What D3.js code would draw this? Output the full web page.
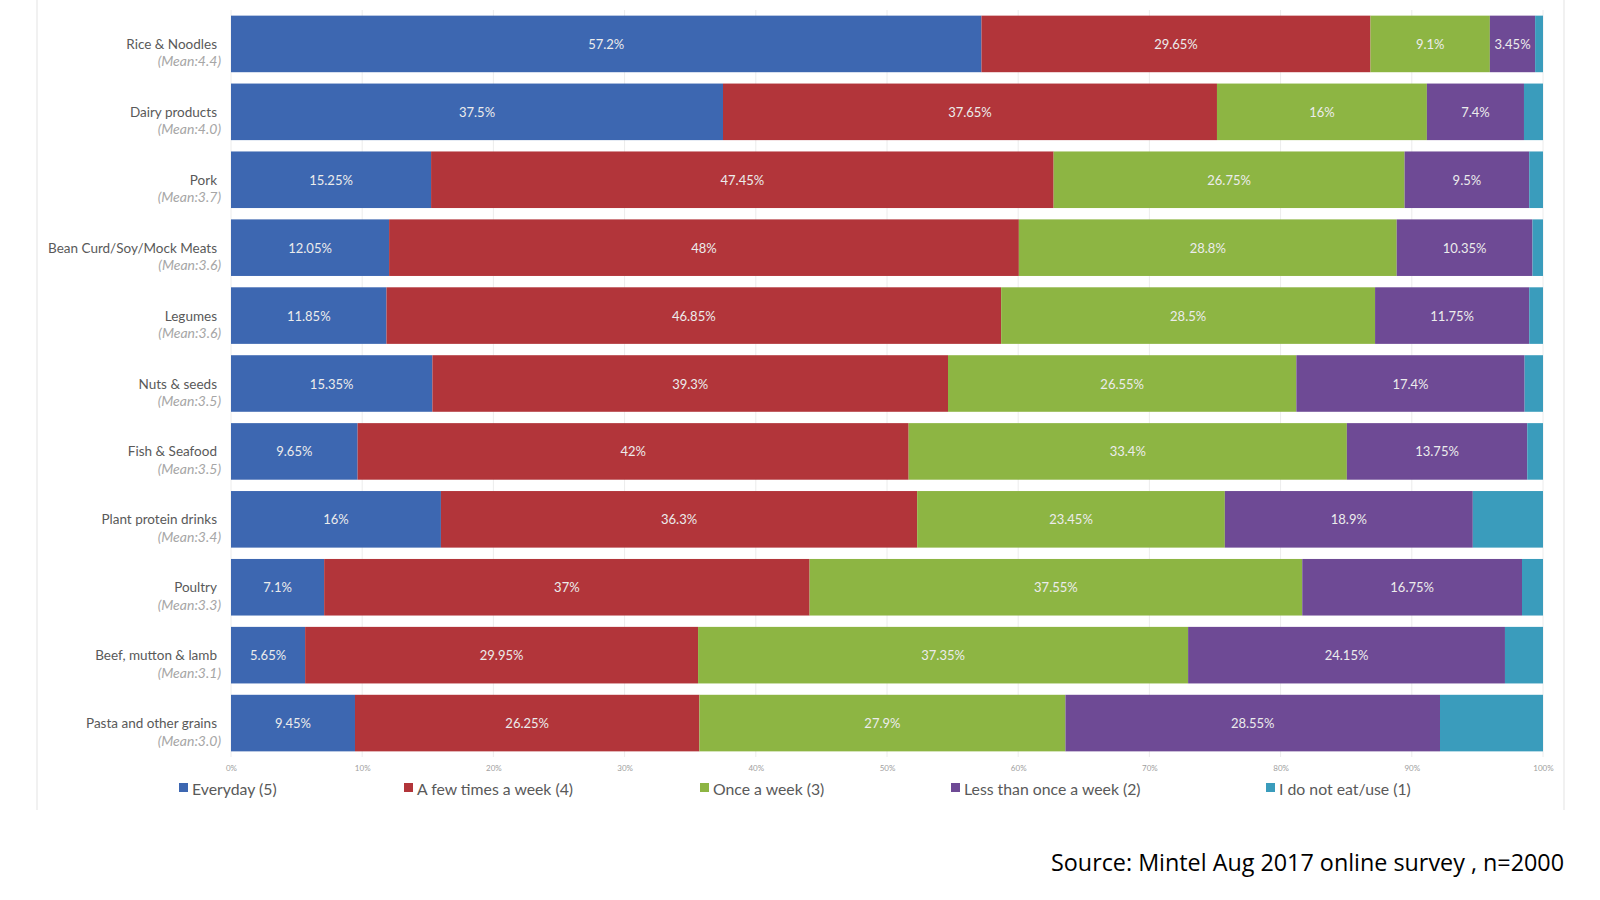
<!DOCTYPE html>
<html><head><meta charset="utf-8">
<script src="https://cdn.jsdelivr.net/npm/d3@7"></script>
<style>body{margin:0;background:#fff;}svg{display:block;font-family:Lato,"Open Sans",sans-serif;}</style>
</head><body>
<svg id="chart" width="1600" height="900"></svg>
<script>
const categories = ["Rice & Noodles","Dairy products","Pork","Bean Curd/Soy/Mock Meats","Legumes","Nuts & seeds","Fish & Seafood","Plant protein drinks","Poultry","Beef, mutton & lamb","Pasta and other grains"];
const means = ["(Mean:4.4)","(Mean:4.0)","(Mean:3.7)","(Mean:3.6)","(Mean:3.6)","(Mean:3.5)","(Mean:3.5)","(Mean:3.4)","(Mean:3.3)","(Mean:3.1)","(Mean:3.0)"];
const seriesNames = ["Everyday (5)","A few times a week (4)","Once a week (3)","Less than once a week (2)","I do not eat/use (1)"];
const everyday   = [57.2, 37.5, 15.25, 12.05, 11.85, 15.35, 9.65, 16, 7.1, 5.65, 9.45];
const fewTimes   = [29.65, 37.65, 47.45, 48, 46.85, 39.3, 42, 36.3, 37, 29.95, 26.25];
const onceWeek   = [9.1, 16, 26.75, 28.8, 28.5, 26.55, 33.4, 23.45, 37.55, 37.35, 27.9];
const lessThan   = [3.45, 7.4, 9.5, 10.35, 11.75, 17.4, 13.75, 18.9, 16.75, 24.15, 28.55];
const notEat     = [0.6, 1.45, 1.05, 0.8, 1.05, 1.4, 1.2, 5.35, 1.6, 2.9, 7.85];
const showLabel  = [true, true, true, true, false];
const tickValues = [0,10,20,30,40,50,60,70,80,90,100];
const colors = ["#3d67b1","#b2353a","#8db543","#6e4a95","#3a9cbc"];

const seriesVals = [everyday, fewTimes, onceWeek, lessThan, notEat];
const rows = categories.map((c,i)=>{const o={cat:c}; seriesNames.forEach((s,j)=>o[s]=seriesVals[j][i]); return o;});
const stack = d3.stack().keys(seriesNames)(rows);

const svg = d3.select("#chart");
const x = d3.scaleLinear().domain([0,100]).range([231,1543]);
const y = d3.scaleBand().domain(categories).range([10,757]).paddingInner(0.167).paddingOuter(0.083);

// frame lines
svg.append("line").attr("x1",37).attr("x2",37).attr("y1",0).attr("y2",810).attr("stroke","#e3e3e3");
svg.append("line").attr("x1",1564).attr("x2",1564).attr("y1",0).attr("y2",810).attr("stroke","#e3e3e3");

// gridlines
svg.append("g").selectAll("line").data(tickValues).join("line")
  .attr("x1",d=>x(d)).attr("x2",d=>x(d)).attr("y1",10).attr("y2",757)
  .attr("stroke","#ececec").attr("stroke-width",1);

// bars
const g = svg.append("g");
stack.forEach((layer,j)=>{
  g.append("g").attr("fill",colors[j]).selectAll("rect").data(layer).join("rect")
    .attr("x",d=>x(d[0])).attr("width",d=>x(d[1])-x(d[0]))
    .attr("y",d=>y(d.data.cat)).attr("height",y.bandwidth());
  if(showLabel[j]){
    g.append("g").selectAll("text").data(layer).join("text")
      .attr("x",d=>(x(d[0])+x(d[1]))/2).attr("y",d=>y(d.data.cat)+y.bandwidth()/2)
      .attr("text-anchor","middle").attr("dominant-baseline","central")
      .attr("fill","#ececec").attr("font-size",13)
      .text(d=>(d[1]-d[0]).toFixed(2).replace(/\.?0+$/,"")+"%");
  }
});

// x axis tick labels
const axis = d3.axisBottom(x).tickValues(tickValues).tickFormat(d=>d+"%").tickSize(0);
const ax = svg.append("g").attr("transform","translate(0,762)").call(axis);
ax.select(".domain").remove();
ax.selectAll("text").attr("fill","#a0a0a0").attr("font-size",8).attr("font-family","Lato");

// category labels
const lab = svg.append("g");
categories.forEach((c,i)=>{
  const cy = y(c)+y.bandwidth()/2;
  lab.append("text").attr("x",217).attr("y",cy).attr("text-anchor","end").attr("dominant-baseline","central")
    .attr("fill","#595959").attr("font-size",13.5).text(c);
  lab.append("text").attr("x",221).attr("y",cy+17).attr("text-anchor","end").attr("dominant-baseline","central")
    .attr("fill","#a6a6a6").attr("font-size",14).attr("font-style","italic").text(means[i]);
});

// legend
const legX = [179,404,700,951,1266];
const leg = svg.append("g");
seriesNames.forEach((s,j)=>{
  leg.append("rect").attr("x",legX[j]).attr("y",783).attr("width",9).attr("height",9).attr("fill",colors[j]);
  leg.append("text").attr("x",legX[j]+13).attr("y",788).attr("dominant-baseline","central")
    .attr("fill","#595959").attr("font-size",15.8).text(s);
});

// source
svg.append("text").attr("x",1564).attr("y",862).attr("text-anchor","end").attr("dominant-baseline","central")
  .attr("fill","#000").attr("font-size",23).attr("font-family","'Open Sans',Lato,sans-serif")
  .attr("textLength",513).attr("lengthAdjust","spacingAndGlyphs")
  .text("Source: Mintel Aug 2017 online survey , n=2000");
</script>
</body></html>
